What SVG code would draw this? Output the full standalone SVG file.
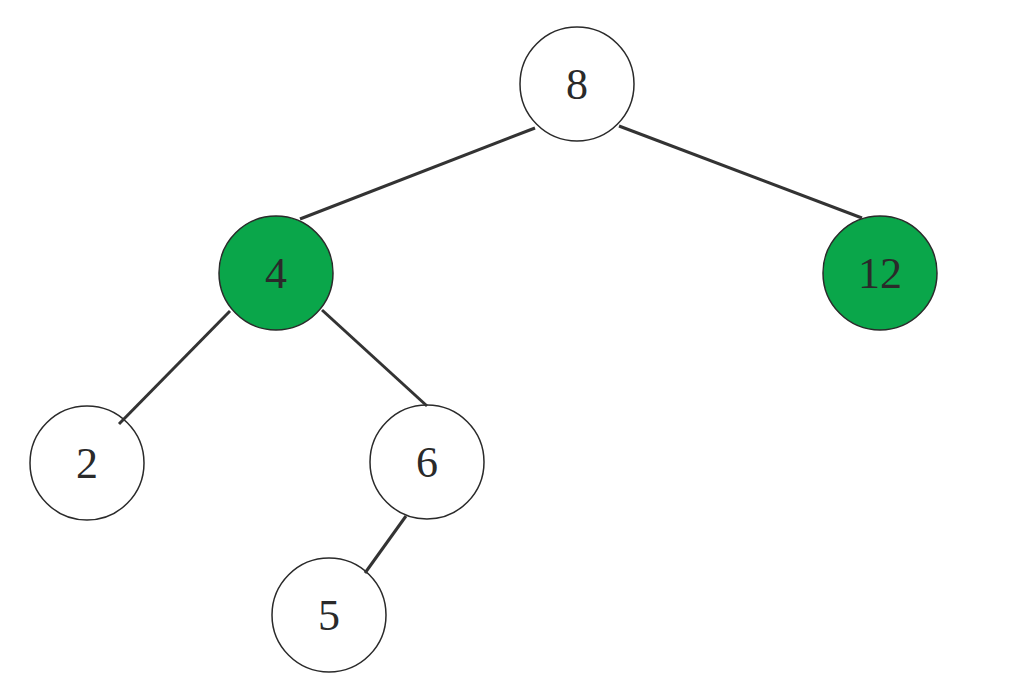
<svg xmlns="http://www.w3.org/2000/svg" width="1020" height="692" viewBox="0 0 1020 692">
<style>
.edge{stroke:#333;stroke-width:3;fill:none}
.n circle{stroke:#2a2a2a;stroke-width:1.5;fill:#fff}
.n.g circle{fill:#0aa64a}
.n text{font-family:"Liberation Serif",serif;font-size:44px;fill:#2a2a2a;text-anchor:middle;dominant-baseline:central}
</style>
<rect width="1020" height="692" fill="#fff"/>
<g id="n8" class="n"><circle cx="577" cy="84" r="57"/><text x="577" y="84">8</text></g>
<g id="n4" class="n g"><circle cx="276" cy="273" r="57"/><text x="276" y="273">4</text></g>
<g id="n12" class="n g"><circle cx="880" cy="273" r="57"/><text x="880" y="273">12</text></g>
<g id="n2" class="n"><circle cx="87" cy="463" r="57"/><text x="87" y="463">2</text></g>
<g id="n6" class="n"><circle cx="427" cy="462" r="57"/><text x="427" y="462">6</text></g>
<g id="n5" class="n"><circle cx="329" cy="615" r="57"/><text x="329" y="615">5</text></g>
<g id="edges">
<line class="edge" x1="535" y1="128" x2="300" y2="219"/>
<line class="edge" x1="619" y1="126" x2="862" y2="218"/>
<line class="edge" x1="230" y1="311" x2="119" y2="424"/>
<line class="edge" x1="322" y1="310" x2="427" y2="406"/>
<line class="edge" x1="406" y1="516" x2="365" y2="573"/>
</g>
</svg>
